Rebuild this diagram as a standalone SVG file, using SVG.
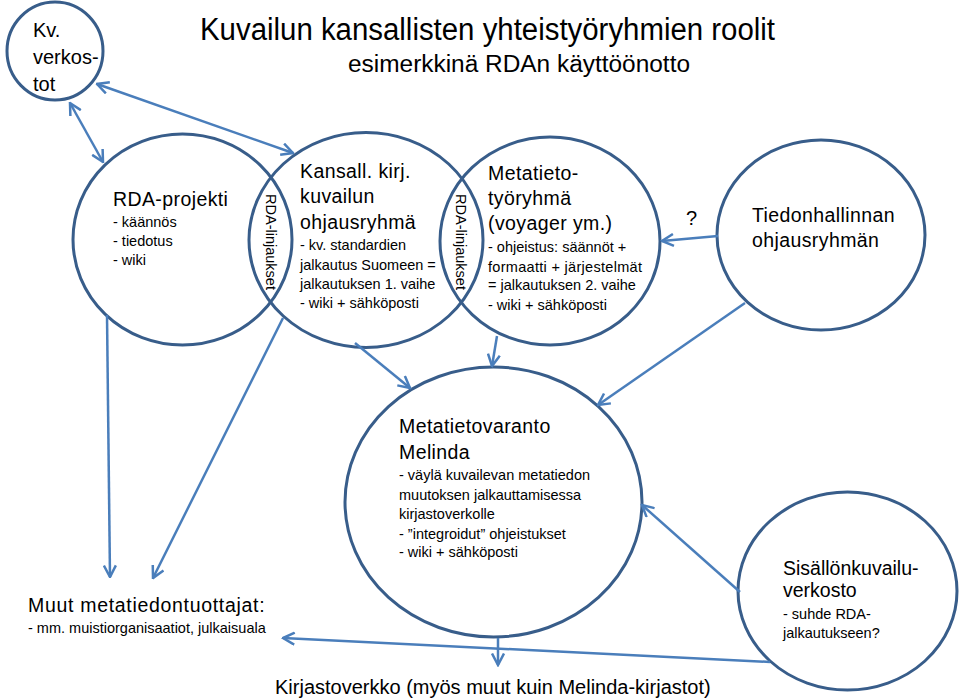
<svg xmlns="http://www.w3.org/2000/svg" width="960" height="699" viewBox="0 0 960 699">
<defs>
<marker id="ah" viewBox="0 0 14 14" refX="12.5" refY="7" markerWidth="14" markerHeight="14" markerUnits="userSpaceOnUse" orient="auto-start-reverse">
<path d="M1,1 L12.5,7 L1,13" fill="none" stroke="#4a7ebb" stroke-width="2.5" stroke-linejoin="miter"/>
</marker>
</defs>
<style>
.c{fill:none;stroke:#385d8a;stroke-width:3}
.t{font-family:"Liberation Sans",Arial,sans-serif;fill:#000}
.b{font-size:19.5px;letter-spacing:0.4px}
.s{font-size:14.5px}
.v{font-size:14.5px}
.ln{fill:none;stroke:#4a7ebb;stroke-width:2.5;marker-end:url(#ah)}
.dbl{marker-start:url(#ah)}
</style>
<rect width="960" height="699" fill="#fff"/>
<g id="title">
<text class="t" x="200" y="40" font-size="31" textLength="575" lengthAdjust="spacingAndGlyphs">Kuvailun kansallisten yhteistyöryhmien roolit</text>
<text class="t" x="348" y="72" font-size="23" textLength="342" lengthAdjust="spacingAndGlyphs">esimerkkinä RDAn käyttöönotto</text>
</g>
<g id="kv">
<ellipse class="c" cx="55" cy="51" rx="48" ry="49"/>
<text class="t" x="33" y="37" font-size="20">Kv.</text>
<text class="t" x="33" y="64" font-size="20">verkos-</text>
<text class="t" x="33" y="91" font-size="20">tot</text>
</g>
<g id="rda">
<ellipse class="c" cx="182.5" cy="239.5" rx="109.5" ry="105.5"/>
<text class="t b" x="113" y="206">RDA-projekti</text>
<text class="t s" x="113" y="227">- käännös</text>
<text class="t s" x="113" y="246">- tiedotus</text>
<text class="t s" x="113" y="265">- wiki</text>
</g>
<g id="kansall">
<ellipse class="c" cx="366" cy="240" rx="117" ry="107.5"/>
<text class="t b" x="300" y="178">Kansall. kirj.</text>
<text class="t b" x="300" y="203">kuvailun</text>
<text class="t b" x="300" y="229">ohjausryhmä</text>
<text class="t s" x="300" y="250">- kv. standardien</text>
<text class="t s" x="300" y="270">jalkautus Suomeen =</text>
<text class="t s" x="300" y="289">jalkautuksen 1. vaihe</text>
<text class="t s" x="300" y="308">- wiki + sähköposti</text>
</g>
<g id="metatieto">
<ellipse class="c" cx="550" cy="241" rx="110" ry="104"/>
<text class="t b" x="488" y="180">Metatieto-</text>
<text class="t b" x="488" y="205">työryhmä</text>
<text class="t b" x="488" y="230">(voyager ym.)</text>
<text class="t s" x="488" y="252">- ohjeistus: säännöt +</text>
<text class="t s" x="488" y="272" textLength="154">formaatti + järjestelmät</text>
<text class="t s" x="488" y="290">= jalkautuksen 2. vaihe</text>
<text class="t s" x="488" y="310">- wiki + sähköposti</text>
</g>
<g id="lens1">
<text class="t v" x="266" y="242" text-anchor="middle" transform="rotate(90 266 242)" dy="0">RDA-linjaukset</text>
</g>
<g id="lens2">
<text class="t v" x="456" y="242" text-anchor="middle" transform="rotate(90 456 242)">RDA-linjaukset</text>
</g>
<g id="tiedon">
<ellipse class="c" cx="821" cy="235" rx="104" ry="95"/>
<text class="t b" x="752" y="222">Tiedonhallinnan</text>
<text class="t b" x="752" y="247">ohjausryhmän</text>
</g>
<g id="melinda">
<ellipse class="c" cx="493.5" cy="502" rx="148.5" ry="135"/>
<text class="t b" x="399" y="433">Metatietovaranto</text>
<text class="t b" x="399" y="459">Melinda</text>
<text class="t s" x="399" y="480">- väylä kuvailevan metatiedon</text>
<text class="t s" x="399" y="500">muutoksen jalkauttamisessa</text>
<text class="t s" x="399" y="519">kirjastoverkolle</text>
<text class="t s" x="399" y="539">- ”integroidut” ohjeistukset</text>
<text class="t s" x="399" y="557">- wiki + sähköposti</text>
</g>
<g id="sisallon">
<ellipse class="c" cx="847.5" cy="591" rx="109.5" ry="99"/>
<text class="t" x="783" y="575" font-size="19.5">Sisällönkuvailu-</text>
<text class="t" x="783" y="597" font-size="19.5">verkosto</text>
<text class="t s" x="783" y="619">- suhde RDA-</text>
<text class="t s" x="783" y="638">jalkautukseen?</text>
</g>
<g id="muut">
<text class="t b" x="28" y="612" textLength="237">Muut metatiedontuottajat:</text>
<text class="t s" x="28" y="633">- mm. muistiorganisaatiot, julkaisuala</text>
</g>
<g id="kirjasto">
<text class="t" x="275" y="694" font-size="20">Kirjastoverkko (myös muut kuin Melinda-kirjastot)</text>
</g>
<g id="q">
<text class="t" x="686" y="225" font-size="20">?</text>
</g>
<g id="connectors">
<line class="ln dbl" x1="70" y1="103" x2="103" y2="162"/>
<line class="ln dbl" x1="97" y1="84" x2="293" y2="153"/>
<line class="ln" x1="107" y1="315" x2="110" y2="577"/>
<line class="ln" x1="283" y1="318" x2="153" y2="578"/>
<line class="ln" x1="355" y1="343" x2="410" y2="388"/>
<line class="ln" x1="497" y1="336" x2="492" y2="366"/>
<line class="ln" x1="718" y1="236" x2="662" y2="241"/>
<line class="ln" x1="745" y1="303" x2="598" y2="405"/>
<line class="ln" x1="740" y1="592" x2="642" y2="505"/>
<line class="ln" x1="770" y1="662" x2="283" y2="638"/>
<line class="ln" x1="498" y1="638" x2="498" y2="665"/>
</g>
</svg>
